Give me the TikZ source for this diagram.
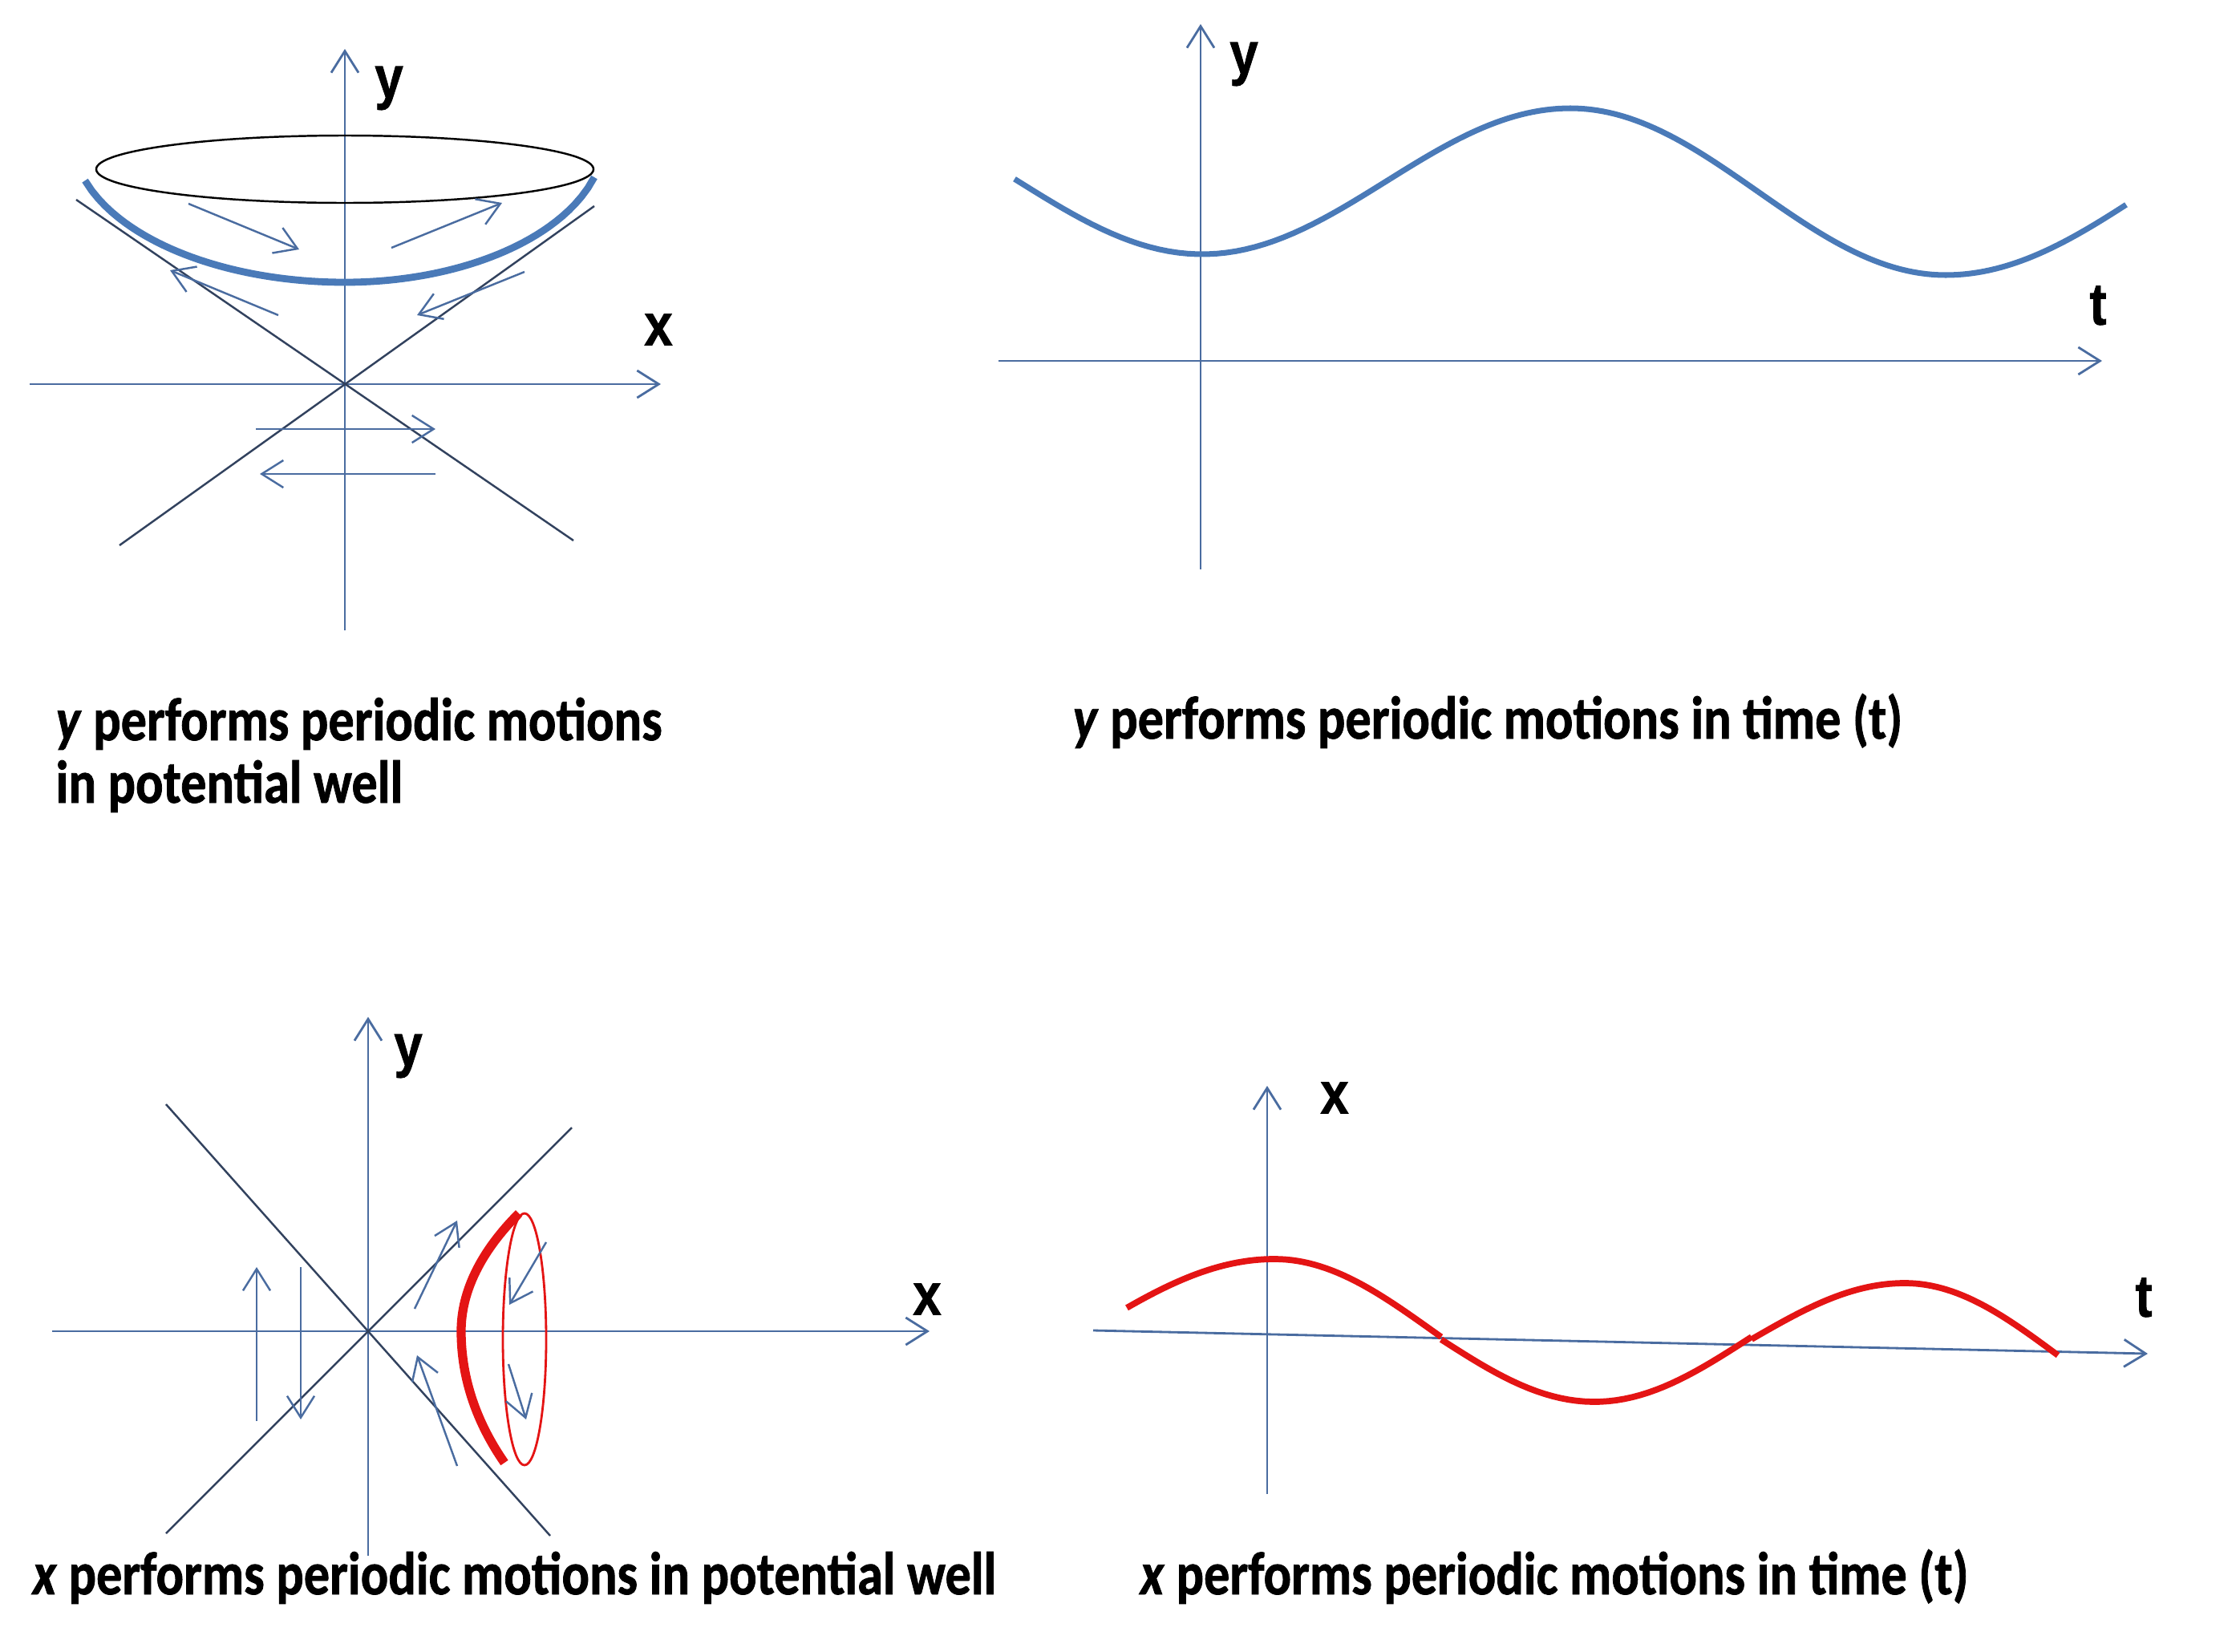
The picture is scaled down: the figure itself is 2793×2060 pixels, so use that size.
\documentclass[tikz,border=0pt]{standalone}
\usepackage{fontspec}
\setmainfont{Carlito}
\newfontfamily\capfont[FakeStretch=0.85,FakeBold=1]{Carlito}
\newfontfamily\lblfont[FakeStretch=0.86,FakeBold=1]{Liberation Sans}
\usetikzlibrary{arrows.meta}
\definecolor{axisblue}{RGB}{74,108,160}
\definecolor{diagblue}{RGB}{50,66,94}
\definecolor{curveblue}{RGB}{74,122,184}
\definecolor{curvered}{RGB}{228,20,20}

\begin{document}
\begin{tikzpicture}[x=0.01cm,y=-0.01cm,
  >={Straight Barb[length=2.7mm,width=3.4mm]},
  ax/.style={axisblue,line width=0.8pt},
  diag/.style={diagblue,line width=0.7pt},
  mv/.style={axisblue,line width=0.7pt,->},
  lbl/.style={font=\lblfont\bfseries\fontsize{21}{24}\selectfont,inner sep=0pt},
  captext/.style={font=\capfont\bfseries\fontsize{21.5}{25}\selectfont,inner sep=0pt,anchor=base west}]
\useasboundingbox (0,0) rectangle (2793,2060);

\draw [ax,->] (430,786) -- (430,61);
\draw [ax,->] (37,479) -- (824,479);
\node[lbl] (ylw) at (485,110) {y};
\node[lbl] (xlw) at (821,411) {x};
\draw [diag] (95,249) -- (715,674);
\draw [diag] (149,680) -- (741,257);
\draw [black,line width=0.7pt] (430,211) ellipse [x radius=310,y radius=42];
\draw [curveblue,line width=2.5pt] plot[domain=106:430,samples=40] (\x,{170+182*sqrt(1-((\x-430)/340)^2)})
  -- plot[domain=430:741,samples=40] (\x,{170+182*sqrt(max(0,1-((\x-430)/324)^2))});
\draw [mv] (235,254) -- (373,311);
\draw [mv] (488,309) -- (626,253);
\draw [mv] (347,393) -- (212,337);
\draw [mv] (654,339) -- (520,393);
\draw [mv] (319,535) -- (543,535);
\draw [mv] (543,591) -- (324,591);
\node[captext] (capyw) at (69,923) {\textit{y} performs periodic motions};
\node[captext] (capyw2) at (69,1001) {in potential well};

\draw [ax,->] (1497,710) -- (1497,30);
\draw [ax,->] (1245,450) -- (2621,450);
\node[lbl] (ylt) at (1551,80) {y};
\node[lbl] (tlt) at (2616,381) {t};
\draw [curveblue,line width=2pt] plot[domain=1265:1733,samples=40] (\x,{226+91*cos((\x-1499)/459*180)});
\draw [curveblue,line width=2pt] plot[domain=1733:1958,samples=30] (\x,{226-91*cos((\x-1958)/459*180)})
  -- plot[domain=1958:2192,samples=30] (\x,{239-104*cos((\x-1958)/468*180)});
\draw [curveblue,line width=2pt] plot[domain=2192:2426,samples=30] (\x,{239+104*cos((\x-2426)/468*180)})
  -- plot[domain=2426:2651,samples=30] (\x,{239+104*cos((\x-2426)/500*180)});
\node[captext] (capyt) at (1337,921) {\textit{y} performs periodic motions in time (t)};

\draw [ax,->] (459,1940) -- (459,1268);
\draw [ax,->] (65,1660) -- (1159,1660);
\node[lbl] (ylp) at (509,1317) {y};
\node[lbl] (xlp) at (1156,1620) {x};
\draw [diag] (207,1912) -- (713,1406);
\draw [diag] (207,1377) -- (686,1915);
\draw [curvered,line width=3.2pt] (647,1513) .. controls (600,1560) and (575,1610) .. (575,1660)
  .. controls (575,1720) and (595,1775) .. (629,1824);
\draw [curvered,line width=0.8pt] (654,1670) ellipse [x radius=27,y radius=157];
\draw [mv] (320,1772) -- (320,1580);
\draw [mv] (375,1580) -- (375,1770);
\draw [mv] (517,1632) -- (570,1522);
\draw [mv] (570,1828) -- (520,1690);
\draw [mv] (681,1549) -- (635,1627);
\draw [mv] (634,1701) -- (656,1770);
\node[captext] (capxw) at (40,1988) {\textit{x} performs periodic motions in potential well};

\draw [ax,->] (1580,1863) -- (1580,1354);
\draw [ax,->] (1363,1659) -- (2678,1688);
\node[lbl] (xlt) at (1664,1369) {x};
\node[lbl] (tlx) at (2673,1618) {t};
\draw [curvered,line width=2.2pt] plot[domain=1405:1589,samples=30] (\x,{1659-89*cos((\x-1589)/463*180)})
  -- plot[domain=1589:1797,samples=30] (\x,{1659-89*cos((\x-1589)/393*180)});
\draw [curvered,line width=2.2pt] plot[domain=1797:2184,samples=40] (\x,{1669+79*cos((\x-1988)/386*180)});
\draw [curvered,line width=2.2pt] plot[domain=2184:2375,samples=30] (\x,{1600+70*(1-cos((\x-2375)/191*90))})
  -- plot[domain=2375:2566,samples=30] (\x,{1600+90*(1-cos((\x-2375)/191*90))});
\node[captext] (capxt) at (1421,1988) {\textit{x} performs periodic motions in time (t)};
\end{tikzpicture}
\end{document}
